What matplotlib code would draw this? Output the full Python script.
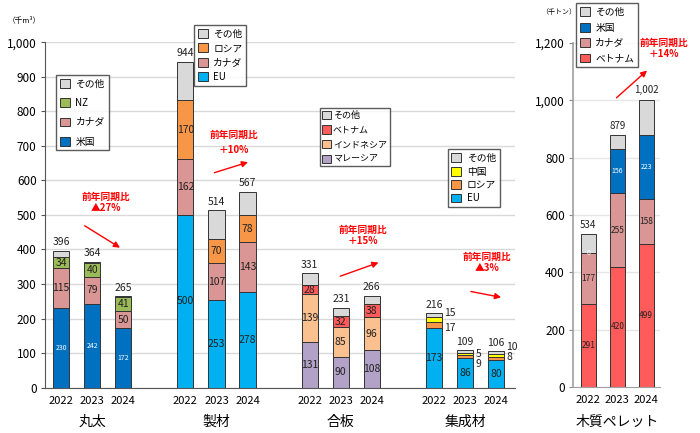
import matplotlib
matplotlib.use("Agg")
import matplotlib.pyplot as plt
import numpy as np

plt.rcParams['font.family'] = ['Noto Sans CJK JP', 'DejaVu Sans']

years = ['2022', '2023', '2024']

# 丸太
maruta_us = [230, 242, 172]
maruta_ca = [115, 79, 50]
maruta_nz = [34, 40, 41]
maruta_total = [396, 364, 265]

# 製材
seizai_eu = [500, 253, 278]
seizai_ca = [162, 107, 143]
seizai_ru = [170, 70, 78]
seizai_total = [944, 514, 567]

# 合板
gohan_my = [131, 90, 108]
gohan_id = [139, 85, 96]
gohan_vn = [28, 32, 38]
gohan_total = [331, 231, 266]

# 集成材
shusei_eu = [173, 86, 80]
shusei_ru = [17, 9, 8]
shusei_cn = [15, 5, 10]
shusei_total = [216, 109, 106]

# 木質ペレット
pellet_vn = [291, 420, 499]
pellet_ca = [177, 255, 158]
pellet_us = [0, 156, 223]
pellet_total = [534, 879, 1002]

GRAY = '#D9D9D9'
PINK = '#D99694'
BLUE = '#0070C0'
SKY = '#00B0F0'
ORANGE = '#F79646'
GREEN = '#9BBB59'
LAV = '#B3A2C7'
PEACH = '#FAC090'
RED = '#FF5B5B'
YELLOW = '#FFFF00'
EDGE = '#333333'

fig = plt.figure(figsize=(7, 4.33), dpi=100)
ax = fig.add_axes([0.0643, 0.1046, 0.671, 0.798])
ax2 = fig.add_axes([0.819, 0.106, 0.124, 0.795])

W = 0.52


def stack(a, x, parts, colors, labels, total, names, lblcolors=None, lblsize=7.5):
    x = np.asarray(x, dtype=float)
    bottom = np.zeros(len(x))
    handles = []
    for i, (vals, c, nm) in enumerate(zip(parts, colors, names)):
        vals = np.asarray(vals, dtype=float)
        h = a.bar(x, vals, W, bottom=bottom, color=c, edgecolor=EDGE, linewidth=0.7, label=nm)
        handles.append(h)
        if labels[i]:
            tc = lblcolors[i] if lblcolors else '#222222'
            for xi, b, v in zip(x, bottom, vals):
                a.text(xi, b + v / 2, f'{int(v)}', ha='center', va='center',
                       fontsize=lblsize if tc != 'white' else 5, color=tc)
        bottom = bottom + vals
    other = np.asarray(total, dtype=float) - bottom
    h = a.bar(x, other, W, bottom=bottom, color=GRAY, edgecolor=EDGE, linewidth=0.7, label='その他')
    handles.append(h)
    return handles[::-1]


# left chart
pos_maruta = [0, 1, 2]
pos_seizai = [4, 5, 6]
pos_gohan = [8, 9, 10]
pos_shusei = [12, 13, 14]

hm = stack(ax, pos_maruta, [maruta_us, maruta_ca, maruta_nz], [BLUE, PINK, GREEN],
           [True, True, True], maruta_total, ['米国', 'カナダ', 'NZ'],
           lblcolors=['white', '#222222', '#222222'])
hs = stack(ax, pos_seizai, [seizai_eu, seizai_ca, seizai_ru], [SKY, PINK, ORANGE],
           [True, True, True], seizai_total, ['EU', 'カナダ', 'ロシア'])
hg = stack(ax, pos_gohan, [gohan_my, gohan_id, gohan_vn], [LAV, PEACH, RED],
           [True, True, True], gohan_total, ['マレーシア', 'インドネシア', 'ベトナム'])
hc = stack(ax, pos_shusei, [shusei_eu, shusei_ru, shusei_cn], [SKY, ORANGE, YELLOW],
           [True, False, False], shusei_total, ['EU', 'ロシア', '中国'])

for pos, tot in [(pos_maruta, maruta_total), (pos_seizai, seizai_total),
                 (pos_gohan, gohan_total), (pos_shusei, shusei_total)]:
    for xi, t in zip(pos, tot):
        ax.text(xi, t + 10, f'{t}', ha='center', va='bottom', fontsize=7.5, color='#222222')

# small segment labels for 集成材
cn_dy = [0, -12, 12]
ru_dy = [-43, -40, -17]
for xi, t, cn, ru, c_dy, r_dy in zip(pos_shusei, shusei_total, shusei_cn, shusei_ru, cn_dy, ru_dy):
    ax.text(xi + 0.33, t + c_dy, f'{cn}', ha='left', va='center', fontsize=7.5, color='#222222')
    ax.text(xi + 0.33, t + r_dy, f'{ru}', ha='left', va='center', fontsize=7.5, color='#222222')

ax.set_xlim(-0.52, 14.6)
ax.set_ylim(0, 1000)
ax.set_yticks(range(0, 1001, 100))
ax.set_yticklabels([f'{v:,}' for v in range(0, 1001, 100)], fontsize=8.5)
ax.set_xticks(pos_maruta + pos_seizai + pos_gohan + pos_shusei)
ax.set_xticklabels(years * 4, fontsize=8)
ax.tick_params(axis='x', length=0, pad=6)
ax.tick_params(axis='y', length=3, color='#555555', pad=3)
ax.yaxis.grid(True, color='#D9D9D9', linewidth=1)
ax.set_axisbelow(True)
for s in ['top', 'right']:
    ax.spines[s].set_visible(False)
ax.spines['left'].set_color('#555555')
ax.spines['bottom'].set_color('#555555')

for pos, name in [(pos_maruta, '丸太'), (pos_seizai, '製材'), (pos_gohan, '合板'), (pos_shusei, '集成材')]:
    ax.text(np.mean(pos), -0.1, name, transform=ax.get_xaxis_transform(),
            ha='center', va='center', fontsize=10)

ax.text(-0.08, 1.06, '（千m³）', transform=ax.transAxes, fontsize=5.5, ha='left', va='center')

leg_kw = dict(fontsize=7, frameon=True, fancybox=False, edgecolor='#333333',
              handlelength=1.0, handleheight=1.0, borderpad=0.4, labelspacing=0.6,
              handletextpad=0.6, borderaxespad=0)
l1 = ax.legend(hm, [h.get_label() for h in hm], loc='upper left',
               bbox_to_anchor=(0.0234, 0.905), **dict(leg_kw, labelspacing=0.95))
ax.add_artist(l1)
l2 = ax.legend(hs, [h.get_label() for h in hs], loc='upper left',
               bbox_to_anchor=(0.317, 1.05), **dict(leg_kw, labelspacing=0.45))
ax.add_artist(l2)
l3 = ax.legend(hg, [h.get_label() for h in hg], loc='upper left',
               bbox_to_anchor=(0.585, 0.809), **dict(leg_kw, fontsize=6.5, labelspacing=0.6,
                                                      handlelength=0.9, handletextpad=0.25,
                                                      borderpad=0.3))
ax.add_artist(l3)
l4 = ax.legend(hc, [h.get_label() for h in hc], loc='upper left',
               bbox_to_anchor=(0.857, 0.69), **dict(leg_kw, labelspacing=0.35))

# YoY notes and arrows
notes = [('前年同期比\n▲27%', 1.45, 0.535, 1.1, (0.68, 0.473), (1.97, 0.401)),
         ('前年同期比\n＋10%', 5.55, 0.71, 1.7, (4.85, 0.62), (6.1, 0.655)),
         ('前年同期比\n＋15%', 9.7, 0.44, 1.1, (8.9, 0.32), (10.3, 0.365)),
         ('前年同期比\n▲3%', 13.7, 0.363, 1.1, (13.1, 0.28), (14.25, 0.26))]
for txt, tx, ty, ls, p0, p1 in notes:
    tr = ax.get_xaxis_transform()
    ax.text(tx, ty, txt, transform=tr, ha='center', va='center', color='#FF0000',
            fontsize=7, fontweight='bold', linespacing=ls)
    ax.annotate('', xy=p1, xytext=p0, xycoords=tr, textcoords=tr,
                arrowprops=dict(arrowstyle='-|>', color='#FF0000', lw=1.0, mutation_scale=9))

# right chart
pos_pellet = [0, 1, 2]
hp = stack(ax2, pos_pellet, [pellet_vn, pellet_ca, pellet_us], [RED, PINK, BLUE],
           [True, True, True], pellet_total, ['ベトナム', 'カナダ', '米国'],
           lblcolors=['#222222', '#222222', 'white'], lblsize=6)
for xi, t in zip(pos_pellet, pellet_total):
    ax2.text(xi, t + 15, f'{t:,}', ha='center', va='bottom', fontsize=7, color='#222222')
ax2.set_xlim(-0.52, 2.48)
ax2.set_ylim(0, 1200)
ax2.set_yticks(range(0, 1201, 200))
ax2.set_yticklabels([f'{v:,}' for v in range(0, 1201, 200)], fontsize=8.5)
ax2.set_xticks(pos_pellet)
ax2.set_xticklabels(years, fontsize=8)
ax2.tick_params(axis='x', length=0, pad=6)
ax2.tick_params(axis='y', length=3, color='#888888', pad=3)
ax2.yaxis.grid(True, color='#E6E6E6', linewidth=1)
ax2.set_axisbelow(True)
for s in ['top', 'right']:
    ax2.spines[s].set_visible(False)
ax2.spines['left'].set_color('#A0A0A0')
ax2.spines['left'].set_linewidth(1.2)
ax2.spines['bottom'].set_color('#A0A0A0')
ax2.text(1, -0.1, '木質ペレット', transform=ax2.get_xaxis_transform(),
         ha='center', va='center', fontsize=10)
ax2.text(-0.37, 1.09, '（千トン）', transform=ax2.transAxes, fontsize=5, ha='left', va='center')
ax2.legend(hp, [h.get_label() for h in hp], loc='upper left', bbox_to_anchor=(0.03, 1.115),
           **dict(leg_kw, labelspacing=0.55))
tr2 = ax2.get_xaxis_transform()
ax2.text(2.6, 0.984, '前年同期比\n＋14%', transform=tr2, ha='center', va='center', color='#FF0000',
         fontsize=7, fontweight='bold', linespacing=1.1)
ax2.annotate('', xy=(2.1, 0.925), xytext=(0.9, 0.835), xycoords=tr2, textcoords=tr2,
             arrowprops=dict(arrowstyle='-|>', color='#FF0000', lw=1.0, mutation_scale=9))

fig.savefig('out.png', dpi=100)
